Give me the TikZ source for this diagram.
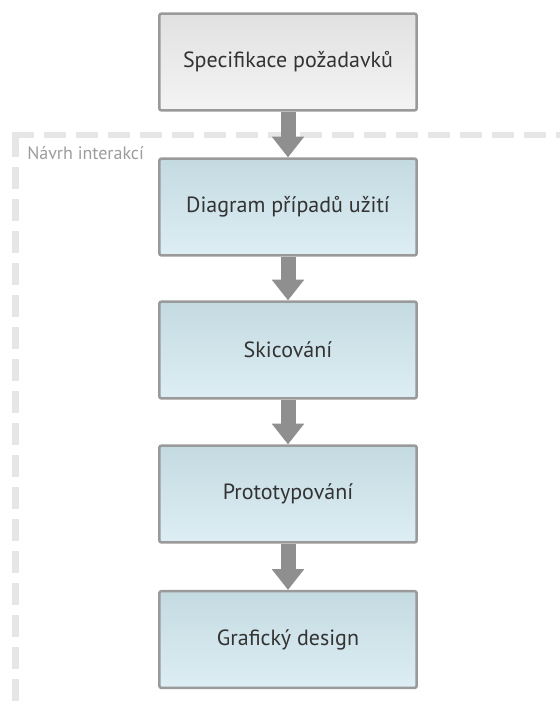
\documentclass[tikz,border=0pt]{standalone}
\usepackage{fontspec}
\setmainfont{PT Sans}
\usetikzlibrary{arrows.meta}

\definecolor{boxline}{HTML}{9A9A9A}
\definecolor{boxtext}{HTML}{333333}
\definecolor{bluetop}{HTML}{C4DAE1}
\definecolor{bluebottom}{HTML}{DDEEF4}
\definecolor{graytop}{HTML}{E1E1E1}
\definecolor{graybottom}{HTML}{F4F4F4}
\definecolor{arrowgray}{HTML}{8F8F8F}
\definecolor{framegray}{HTML}{E6E6E6}
\definecolor{labelgray}{HTML}{9C9C9C}

\begin{document}
\begin{tikzpicture}[x = 0.75pt, y = -0.75pt,
	> = {Triangle[width = 23.25pt, length = 15.5pt]},
	stepbox/.style = {draw = boxline, line width = 1.9pt, rounded corners = 1.5pt,
		minimum width = 193pt, minimum height = 72.5pt, text = boxtext,
		font = \fontsize{16.5}{19}\selectfont,
		top color = bluetop, bottom color = bluebottom},
	inputbox/.style = {stepbox, top color = graytop, bottom color = graybottom},
	flow/.style = {->, draw = arrowgray, fill = arrowgray, line width = 11.25pt},
	frame/.style = {draw = framegray, line width = 4.8pt, dash pattern = on 16.5pt off 7.5pt}]

	\useasboundingbox (0, 0) rectangle (560, 711);

	% Frame

	\coordinate (corner) at (15.5, 135);
	\draw [frame] (corner) -- (15.5, 702);
	\draw [frame] ([xshift = -2.6pt] corner) -- (560, 135);
	\node [anchor = base west, text = labelgray, font = \fontsize{13.5}{16}\selectfont,
		inner sep = 0pt] (frame label) at (27, 159) {Návrh interakcí};

	% Boxes

	\node [inputbox] (spec) at (288, 62) {Specifikace požadavků};
	\node [stepbox] (usecase) at (288, 207) {Diagram případů užití};
	\node [stepbox] (sketch) at (288, 350) {Skicování};
	\node [stepbox] (proto) at (288, 494) {Prototypování};
	\node [stepbox] (graphic) at (288, 639.5) {Grafický design};

	% Arrows

	\draw [flow] (spec) -- (usecase);
	\draw [flow] (usecase) -- (sketch);
	\draw [flow] (sketch) -- (proto);
	\draw [flow] (proto) -- (graphic);

\end{tikzpicture}
\end{document}
